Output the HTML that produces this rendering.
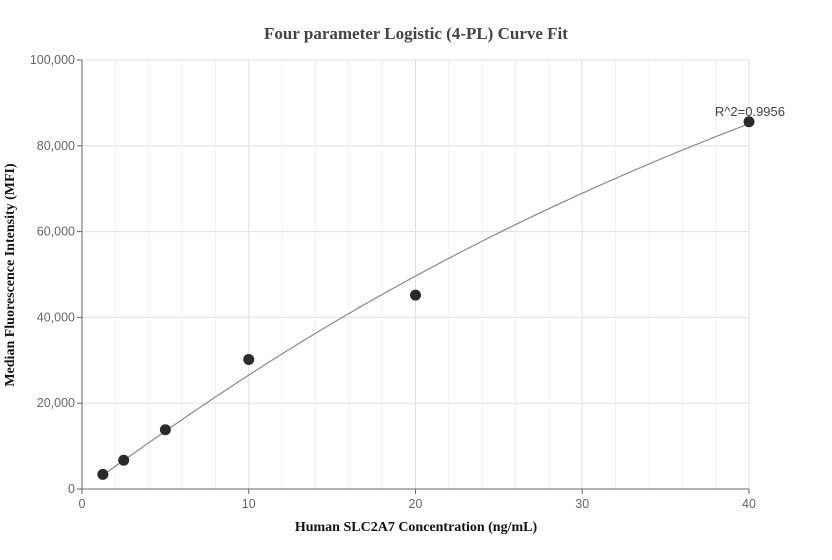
<!DOCTYPE html>
<html><head><meta charset="utf-8"><style>
body{margin:0;background:#fff;}
svg{display:block;font-family:"Liberation Sans",sans-serif;}
</style></head><body>
<svg id="chart" width="832" height="560">
<text x="416" y="39" text-anchor="middle" font-family="Liberation Serif" font-weight="bold" font-size="17" fill="#444">Four parameter Logistic (4-PL) Curve Fit</text>
<text x="416" y="531" text-anchor="middle" font-family="Liberation Serif" font-weight="bold" font-size="14" fill="#111">Human SLC2A7 Concentration (ng/mL)</text>
<text transform="translate(14,275) rotate(-90)" text-anchor="middle" font-family="Liberation Serif" font-weight="bold" font-size="14" fill="#111">Median Fluorescence Intensity (MFI)</text>
<g id="grid"></g><g id="axes"></g><g id="marks"></g>
</svg>
<script>
const xTicks=[0,10,20,30,40];
const yTicks=[0,20000,40000,60000,80000,100000];
const yTickLabels=["0","20,000","40,000","60,000","80,000","100,000"];
const concentrations=[1.25,2.5,5,10,20,40];
const mfiValues=[3400,6700,13800,30200,45200,85600];
const fitParams=[0,1.06,74.6,250000]; // a,b,c,d
const rSquaredLabel="R^2=0.9956";
const X0=82,X1=749,Y0=489,Y1=60;
const sx=v=>X0+(v-0)/(40-0)*(X1-X0);
const sy=v=>Y0-(v-0)/(100000-0)*(Y0-Y1);
const NS="http://www.w3.org/2000/svg";
function mk(t,a,p){const e=document.createElementNS(NS,t);for(const k in a)e.setAttribute(k,a[k]);p.appendChild(e);return e;}
const grid=document.getElementById('grid'),axes=document.getElementById('axes'),marks=document.getElementById('marks');
for(let v=2;v<40;v+=2){if(v%10===0)continue;const l=mk('line',{x1:sx(v),x2:sx(v),y1:Y1,y2:Y0,stroke:'#f2f2f2'},grid);

}
xTicks.forEach(v=>{if(v>0){const l=mk('line',{x1:sx(v),x2:sx(v),y1:Y1,y2:Y0,stroke:'#e0e0e0'},grid);

}
const tk=mk('line',{x1:sx(v),x2:sx(v),y1:Y0,y2:Y0+5,stroke:'#666'},axes);


const t=mk('text',{x:sx(v),y:Y0+19,'text-anchor':'middle','font-size':12.5,fill:'#666'},axes);t.textContent=v;

});
yTicks.forEach((v,i)=>{if(v>0){const l=mk('line',{x1:X0,x2:X1,y1:sy(v),y2:sy(v),stroke:'#e0e0e0'},grid);

}
const tk=mk('line',{x1:X0-5,x2:X0,y1:sy(v),y2:sy(v),stroke:'#666'},axes);


const t=mk('text',{x:X0-7,y:sy(v)+4,'text-anchor':'end','font-size':12.5,fill:'#666'},axes);t.textContent=yTickLabels[i];

});
const ax=mk('path',{d:`M${X0},${Y1}V${Y0}H${X1}`,stroke:'#666',fill:'none'},axes);


const [a,b,c,d]=fitParams;const f=x=>d+(a-d)/(1+Math.pow(x/c,b));
let p='';for(let x=1.25;x<=40.001;x+=0.25){p+=(p?'L':'M')+sx(x).toFixed(1)+','+sy(f(x)).toFixed(1);}
const cv=mk('path',{d:p,stroke:'#888',fill:'none','stroke-width':1.2},marks);


concentrations.forEach((x,i)=>{const ci=mk('circle',{cx:sx(x),cy:sy(mfiValues[i]),r:5.5,fill:'#2b2b2b'},marks);

});
const r=mk('text',{x:sx(40)+36,y:sy(mfiValues[5])-6,'text-anchor':'end','font-size':13,fill:'#444'},marks);r.textContent=rSquaredLabel;


</script>
</body></html>
